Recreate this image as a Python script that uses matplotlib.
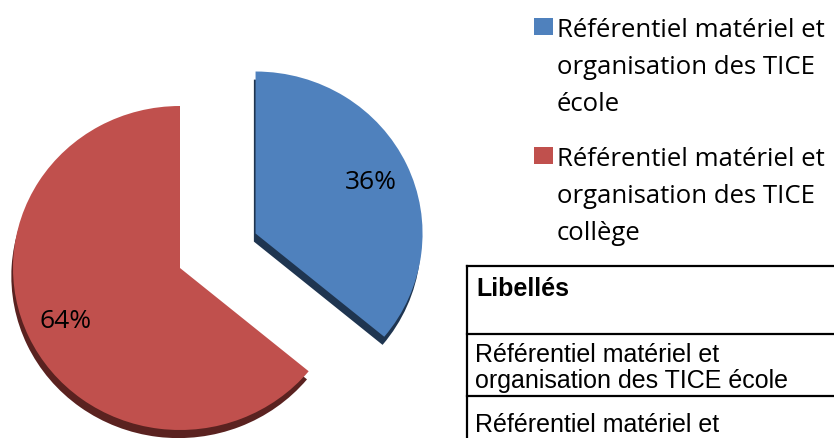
import matplotlib
matplotlib.use('Agg')
import matplotlib.pyplot as plt
from matplotlib.patches import Rectangle
from matplotlib.lines import Line2D

# données du graphique
values = [36, 64]
colors = ['#4f81bd', '#c0504d']
shadow_colors = ['#1f3550', '#5a2220']
legend_labels = [['Référentiel matériel et', 'organisation des TICE', 'école'],
                 ['Référentiel matériel et', 'organisation des TICE', 'collège']]
table_header = 'Libellés'
table_rows = [['Référentiel matériel et', 'organisation des TICE école'],
              ['Référentiel matériel et']]

W, H = 834, 439
fig = plt.figure(figsize=(W / 100, H / 100), dpi=100)


def fx(x):
    return x / W


def fy(y):
    return 1 - y / H


# camembert (pixels -> unités)
sx, sy = 167, 162
cx, cy = 180, 269
ax = fig.add_axes([0, 0, 440 / W, 1])
explode = [0.5, 0]

# ombre pour l'effet 3D
ax.pie(values, explode=explode, colors=shadow_colors, startangle=90,
       counterclock=False, center=(-0.01, -0.05), frame=True)
wedges, texts, autotexts = ax.pie(values, explode=explode, colors=colors, startangle=90,
                                  counterclock=False, autopct='%1.0f%%', pctdistance=0.76,
                                  frame=True,
                                  textprops=dict(fontsize=19, family='Open Sans', color='black'))
ax.set_xlim(-cx / sx, (440 - cx) / sx)
ax.set_ylim(-(H - cy) / sy, cy / sy)
ax.set_aspect('auto')
ax.axis('off')

# légende
leg_font = dict(family='Open Sans', fontsize=18.5, color='black')
for i, lines in enumerate(legend_labels):
    top = [19, 148][i]
    fig.patches.append(Rectangle((fx(534), fy(top + 17)), 19 / W, 17 / H,
                                 transform=fig.transFigure, color=wedges[i].get_facecolor(),
                                 lw=0))
    base = [37, 166][i]
    for j, line in enumerate(lines):
        fig.text(fx(557), fy(base + j * 37), line, va='baseline', ha='left', **leg_font)

# tableau (coupé à droite et en bas)
lw = 1.6
fig.add_artist(Line2D([fx(467), fx(467)], [fy(267), fy(H + 5)], color='black', lw=lw))
for yy in [267, 335, 397]:
    fig.add_artist(Line2D([fx(467), fx(W + 5)], [fy(yy), fy(yy)], color='black', lw=lw))

tab_font = dict(family='Liberation Sans', fontsize=18, color='black')
fig.text(fx(476), fy(296), table_header, va='baseline', ha='left', fontweight='bold', **tab_font)
row_bases = [[362, 388], [432]]
for row, bases in zip(table_rows, row_bases):
    for line, b in zip(row, bases):
        fig.text(fx(475), fy(b), line, va='baseline', ha='left', **tab_font)

fig.savefig('out.png', dpi=100)
